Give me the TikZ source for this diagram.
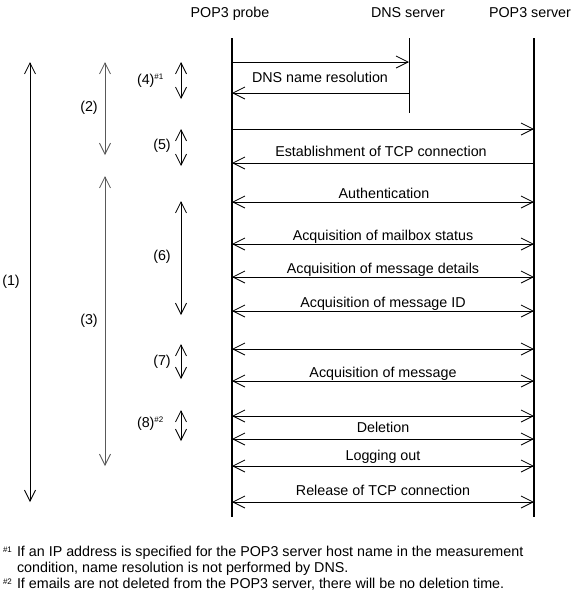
\documentclass[tikz,border=0pt]{standalone}
\usepackage{fontspec}
\setmainfont{Liberation Sans}
\usetikzlibrary{arrows.meta}
\begin{document}
\begin{tikzpicture}[x=1pt,y=-1pt,
  every node/.style={inner sep=0pt,outer sep=0pt,font=\fontsize{14.3}{16}\selectfont},
  life/.style={line width=1.6pt},
  thinlife/.style={line width=0.8pt},
  msg/.style={line width=0.8pt,-{Straight Barb[length=12pt,width=12pt,line width=0.8pt]}},
  dmsg/.style={line width=0.8pt,{Straight Barb[length=12pt,width=12pt,line width=0.8pt]}-{Straight Barb[length=12pt,width=12pt,line width=0.8pt]}},
  span/.style={line width=0.8pt,{Straight Barb[length=11pt,width=11pt,line width=0.8pt]}-{Straight Barb[length=11pt,width=11pt,line width=0.8pt]}},
  gspan/.style={span,draw=black!65},
  lbl/.style={anchor=base},
  sup/.style={font=\fontsize{8}{9}\selectfont}
]
\useasboundingbox (0,0) rectangle (575,600);

% headers
\node[lbl] (hprobe) at (230,17) {POP3 probe};
\node[lbl] (hdns) at (408,17) {DNS server};
\node[lbl] (hpop) at (530,17) {POP3 server};

% lifelines
\coordinate (p0) at (232,38); \coordinate (p1) at (232,517);
\coordinate (d0) at (409,38); \coordinate (d1) at (409,113);
\coordinate (s0) at (534,38); \coordinate (s1) at (534,517);
\draw[life] (p0) -- (p1);
\draw[life] (s0) -- (s1);
\draw[thinlife] (d0) -- (d1);

% coordinates on lifelines
\foreach \n/\y in {a/62,b/93,c/129,d/163,e/202,f/244,g/277,h/311,i/349,j/381,k/416,l/439,m/466,n/502}{
  \coordinate (P\n) at (232,\y);
  \coordinate (S\n) at (534,\y);
  \coordinate (D\n) at (409,\y);
}

% messages
\draw[msg] (Pa) -- (Da);
\draw[msg] (Db) -- (Pb);
\node[lbl] (t1) at (320,82) {DNS name resolution};
\draw[msg] (Pc) -- (Sc);
\draw[msg] (Sd) -- (Pd);
\node[lbl] (t2) at (381,156) {Establishment of TCP connection};
\draw[dmsg] (Pe) -- (Se);
\node[lbl] (t3) at (384,198) {Authentication};
\draw[dmsg] (Pf) -- (Sf);
\node[lbl] (t4) at (383,240) {Acquisition of mailbox status};
\draw[dmsg] (Pg) -- (Sg);
\node[lbl] (t5) at (383,273) {Acquisition of message details};
\draw[dmsg] (Ph) -- (Sh);
\node[lbl] (t6) at (383,307) {Acquisition of message ID};
\draw[dmsg] (Pi) -- (Si);
\draw[dmsg] (Pj) -- (Sj);
\node[lbl] (t7) at (383,377) {Acquisition of message};
\draw[dmsg] (Pk) -- (Sk);
\draw[dmsg] (Pl) -- (Sl);
\node[lbl] (t8) at (383,432) {Deletion};
\draw[dmsg] (Pm) -- (Sm);
\node[lbl] (t9) at (383,460) {Logging out};
\draw[dmsg] (Pn) -- (Sn);
\node[lbl] (t10) at (383,495) {Release of TCP connection};

% spans
\coordinate (a1t) at (30,62); \coordinate (a1b) at (30,502);
\coordinate (a2t) at (105,62); \coordinate (a2b) at (105,155);
\coordinate (a3t) at (105,176); \coordinate (a3b) at (105,466);
\coordinate (a4t) at (181,62); \coordinate (a4b) at (181,99);
\coordinate (a5t) at (181,129); \coordinate (a5b) at (181,166);
\coordinate (a6t) at (181,201); \coordinate (a6b) at (181,315);
\coordinate (a7t) at (181,344); \coordinate (a7b) at (181,379);
\coordinate (a8t) at (181,410); \coordinate (a8b) at (181,441);
\draw[span] (a1t) -- (a1b);
\draw[gspan] (a2t) -- (a2b);
\draw[gspan] (a3t) -- (a3b);
\draw[span] (a4t) -- (a4b);
\draw[span] (a5t) -- (a5b);
\draw[span] (a6t) -- (a6b);
\draw[span] (a7t) -- (a7b);
\draw[span] (a8t) -- (a8b);

\node (l1) at (11,282) {(1)};
\node (l2) at (89,108) {(2)};
\node (l3) at (89,321) {(3)};
\node[anchor=west] (l4) at (137,81) {(4)\raisebox{5pt}{\fontsize{8}{9}\selectfont\#1}};
\node (l5) at (162,146) {(5)};
\node (l6) at (162,257) {(6)};
\node (l7) at (162,362) {(7)};
\node[anchor=west] (l8) at (137,424) {(8)\raisebox{5pt}{\fontsize{8}{9}\selectfont\#2}};

% footnotes
\node[sup,anchor=base west] (f1m) at (3,552) {\#1};
\node[lbl,anchor=base west] (f1) at (17,556) {If an IP address is specified for the POP3 server host name in the measurement};
\node[lbl,anchor=base west] (f1b) at (17,572) {condition, name resolution is not performed by DNS.};
\node[sup,anchor=base west] (f2m) at (3,584) {\#2};
\node[lbl,anchor=base west] (f2) at (17,588) {If emails are not deleted from the POP3 server, there will be no deletion time.};
\end{tikzpicture}
\end{document}
